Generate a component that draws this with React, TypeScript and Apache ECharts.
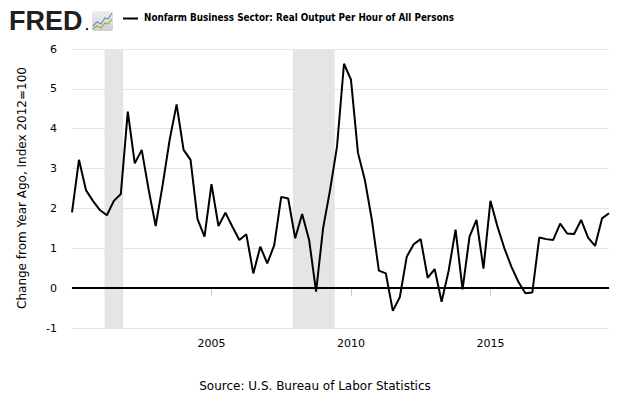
import React, { useEffect, useRef } from "react";
import * as echarts from "echarts";

const startYear = 2000;
const values: number[] = [
  1.9, 3.22, 2.46, 2.19, 1.96, 1.83, 2.19, 2.36,
  4.43, 3.13, 3.47, 2.46, 1.56, 2.59, 3.72, 4.61,
  3.47, 3.22, 1.73, 1.29, 2.61, 1.56, 1.89, 1.54,
  1.21, 1.35, 0.37, 1.04, 0.62, 1.08, 2.29, 2.25,
  1.25, 1.86, 1.21, -0.09, 1.5, 2.46, 3.55, 5.63,
  5.23, 3.4, 2.71, 1.71, 0.44, 0.37, -0.57, -0.23,
  0.79, 1.1, 1.23, 0.26, 0.48, -0.34, 0.43, 1.47,
  -0.03, 1.29, 1.71, 0.49, 2.19, 1.55, 1.0, 0.54,
  0.16, -0.13, -0.11, 1.27, 1.23, 1.21, 1.62, 1.37,
  1.36, 1.71, 1.27, 1.06, 1.75, 1.88,
];
// quarter positions (decimal years) for 2000Q1 .. 2019Q2
const quarterX: number[] = values.map((_, i) => startYear + i / 4);
const recessions: [number, number][] = [
  [2001.167, 2001.833],
  [2007.917, 2009.417],
];
const xTickYears = [2005, 2010, 2015];
const yTicks = [-1, 0, 1, 2, 3, 4, 5, 6];

const seriesName = "Nonfarm Business Sector: Real Output Per Hour of All Persons";
const yTitle = "Change from Year Ago, Index 2012=100";
const source = "Source: U.S. Bureau of Labor Statistics";

export default function App() {
  const ref = useRef<HTMLDivElement>(null);
  useEffect(() => {
    document.body.style.margin = "0";
    if (!ref.current) return;
    const chart = echarts.init(ref.current, null, { renderer: "svg" });
    const font = "'DejaVu Sans', sans-serif";
    chart.setOption({
      animation: false,
      backgroundColor: "#ffffff",
      grid: { left: 72, right: 21, top: 49, bottom: 68 },
      xAxis: {
        type: "value",
        min: 2000,
        max: 2019.25,
        interval: 5,
        axisLine: { show: true, lineStyle: { color: "#c0d0e0", width: 1 } },
        axisTick: { show: true, length: 8, lineStyle: { color: "#c0d0e0" } },
        splitLine: { show: false },
        axisLabel: {
          fontFamily: font,
          fontSize: 11,
          color: "#000",
          margin: 10,
          showMinLabel: false,
          showMaxLabel: false,
          formatter: (v: number) => (xTickYears.includes(v) ? String(v) : ""),
        },
      },
      yAxis: {
        type: "value",
        min: yTicks[0],
        max: yTicks[yTicks.length - 1],
        interval: 1,
        axisLine: { show: false },
        axisTick: { show: false },
        splitLine: { show: true, lineStyle: { color: "#e3e3e3", width: 1 } },
        axisLabel: { fontFamily: font, fontSize: 11, color: "#000", margin: 15 },
      },
      series: [
        {
          type: "line",
          name: seriesName,
          data: quarterX.map((x, i) => [x, values[i]]),
          symbol: "none",
          lineStyle: { color: "#000", width: 2 },
          markArea: {
            silent: true,
            itemStyle: { color: "#e5e5e5" },
            data: recessions.map(([a, b]) => [{ xAxis: a }, { xAxis: b }]),
          },
          markLine: {
            silent: true,
            symbol: "none",
            label: { show: false },
            lineStyle: { color: "#000", width: 2, type: "solid" },
            data: [{ yAxis: 0 }],
          },
          z: 3,
        },
      ],
      graphic: [
        {
          type: "text",
          left: 9,
          top: 7,
          style: {
            text: "FRED",
            fontFamily: "'Liberation Sans', Arial, sans-serif",
            fontWeight: "bold",
            fontSize: 27,
            fill: "#231f20",
          },
        },
        { type: "circle", shape: { cx: 87, cy: 29, r: 1.2 }, style: { fill: "#231f20" } },
        {
          type: "rect",
          shape: { x: 92, y: 11, width: 21, height: 20, r: 2 },
          style: {
            fill: new echarts.graphic.LinearGradient(0, 0, 0, 1, [
              { offset: 0, color: "#eeeeee" },
              { offset: 1, color: "#cfcfcf" },
            ]),
          },
        },
        {
          type: "polyline",
          shape: { points: [[93, 26], [97, 22], [101, 24], [105, 18], [108, 19], [112, 13]] },
          style: { stroke: "#6b93c6", lineWidth: 1.2, fill: "none" },
        },
        {
          type: "polyline",
          shape: { points: [[93, 29], [97, 26], [101, 28], [105, 23], [108, 24], [112, 19]] },
          style: { stroke: "#8cb04a", lineWidth: 1.2, fill: "none" },
        },
        {
          type: "line",
          shape: { x1: 123, y1: 18.5, x2: 138, y2: 18.5 },
          style: { stroke: "#000", lineWidth: 2 },
        },
        {
          type: "text",
          left: 144,
          top: 12,
          style: {
            text: seriesName,
            fontFamily: "'DejaVu Sans Condensed', 'DejaVu Sans', sans-serif",
            fontWeight: "bold",
            fontSize: 9.8,
            fill: "#000",
          },
        },
        {
          type: "text",
          x: 22,
          y: 188,
          rotation: Math.PI / 2,
          style: {
            text: yTitle,
            fontFamily: font,
            fontSize: 12,
            fill: "#000",
            align: "center",
            verticalAlign: "middle",
          },
        },
        {
          type: "text",
          x: 315,
          y: 386,
          style: {
            text: source,
            fontFamily: font,
            fontSize: 12,
            fill: "#000",
            align: "center",
            verticalAlign: "middle",
          },
        },
      ],
    });
    return () => chart.dispose();
  }, []);
  return <div ref={ref} style={{ width: 630, height: 396 }} />;
}
